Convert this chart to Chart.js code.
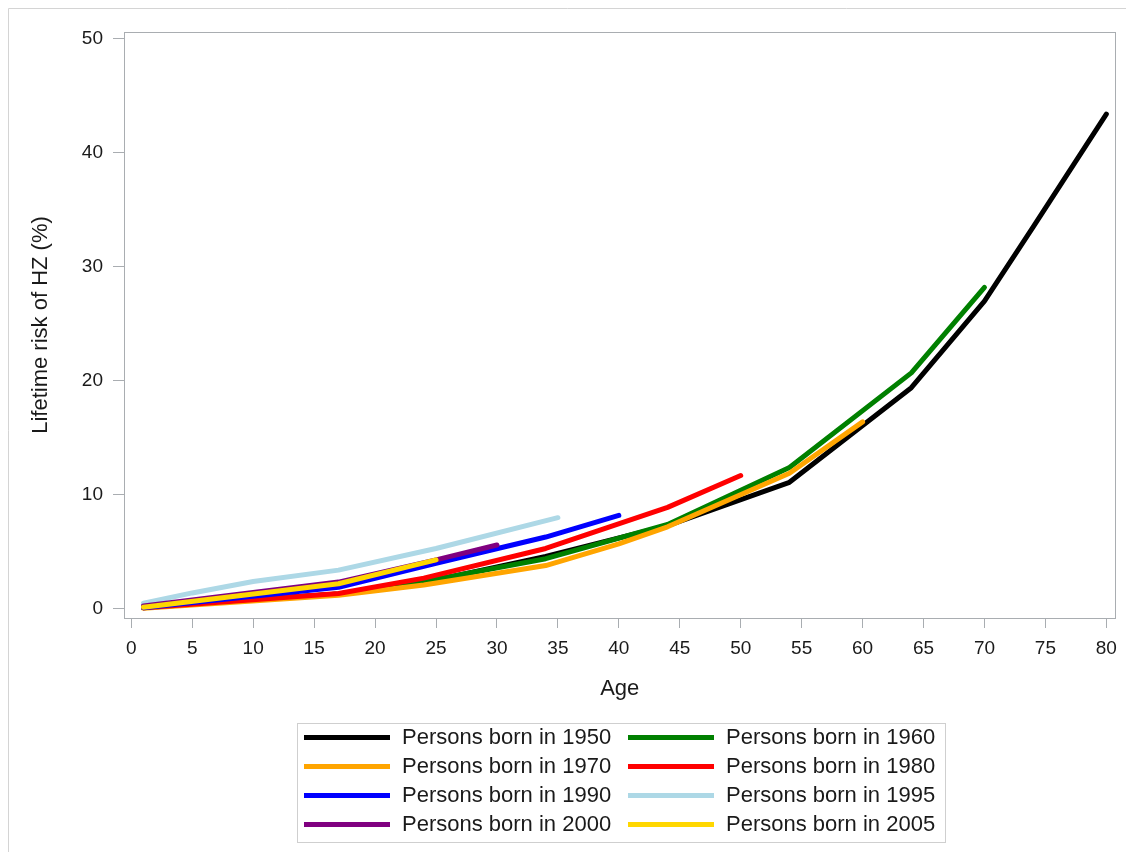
<!DOCTYPE html>
<html>
<head>
<meta charset="utf-8">
<title>Lifetime risk of HZ by birth cohort</title>
<script src="https://cdn.jsdelivr.net/npm/chart.js@4.4.1/dist/chart.umd.min.js"></script>
<style>
    body { margin: 0; background: #fff; }
    #wrap { position: relative; width: 1126px; height: 852px; overflow: hidden; }
    #legend {
        position: absolute;
        left: 297px;
        top: 723px;
        width: 649px;
        height: 120px;
        border: 1px solid #cfcfcf;
        box-sizing: border-box;
    }
    .item {
        position: absolute;
        height: 26px;
        font-family: "Liberation Sans", Arial, sans-serif;
        font-size: 22px;
        line-height: 26px;
        color: #1a1a1a;
        white-space: nowrap;
    }
    .item .swatch {
        position: absolute;
        left: 0;
        top: 11px;
        width: 86px;
        height: 5px;
    }
    .item .label { position: absolute; left: 98px; top: 0; }
</style>
</head>
<body>
<div id="wrap">
    <canvas id="riskChart" width="1126" height="852"></canvas>
    <div id="legend"></div>
</div>
<script>
// Birth cohorts and their line colours
const cohorts = ['1950', '1960', '1970', '1980', '1990', '1995', '2000', '2005'];
const colors = ['#000000', '#008000', '#ffa500', '#ff0000', '#0000ff', '#add8e6', '#800080', '#ffd700'];

// Age (years) and lifetime risk of HZ (%) per cohort
const age1950 = [1, 17, 24, 34, 44, 54, 64, 70, 74, 80];
const risk1950 = [0.2, 1.3, 2.3, 4.6, 7.3, 11.1, 19.4, 27.0, 33.5, 43.4];
const age1960 = [1, 17, 24, 34, 44, 54, 64, 70];
const risk1960 = [0.1, 1.3, 2.4, 4.4, 7.4, 12.4, 20.7, 28.2];
const age1970 = [1, 17, 24, 34, 40, 44, 54, 60];
const risk1970 = [0.05, 1.2, 2.1, 3.8, 5.7, 7.2, 11.9, 16.4];
const age1980 = [1, 17, 24, 34, 44, 50];
const risk1980 = [0.1, 1.35, 2.7, 5.3, 8.9, 11.7];
const age1990 = [1, 17, 25, 34, 40];
const risk1990 = [0.1, 1.9, 4.0, 6.3, 8.2];
const age1995 = [1, 5, 10, 17, 25, 35];
const risk1995 = [0.5, 1.4, 2.4, 3.4, 5.3, 8.0];
const age2000 = [1, 17, 25, 30];
const risk2000 = [0.25, 2.35, 4.3, 5.6];
const age2005 = [1, 17, 25];
const risk2005 = [0.15, 2.2, 4.3];

// Tick labels
const xTicks = [0, 5, 10, 15, 20, 25, 30, 35, 40, 45, 50, 55, 60, 65, 70, 75, 80];
const yTicks = [0, 10, 20, 30, 40, 50];

const ages = [age1950, age1960, age1970, age1980, age1990, age1995, age2000, age2005];
const risks = [risk1950, risk1960, risk1970, risk1980, risk1990, risk1995, risk2000, risk2005];

const axisColor = '#a9adb1';
Chart.defaults.font.family = '"Liberation Sans", Arial, sans-serif';
Chart.defaults.color = '#1a1a1a';

// Box round the plot area plus the outer frame
const framePlugin = {
    id: 'frame',
    beforeDraw(chart) {
        const ctx = chart.ctx;
        ctx.save();
        ctx.fillStyle = '#fff';
        ctx.fillRect(0, 0, chart.width, chart.height);
        ctx.strokeStyle = '#d4d4d4';
        ctx.lineWidth = 1;
        ctx.beginPath();
        ctx.moveTo(8.5, chart.height);
        ctx.lineTo(8.5, 8.5);
        ctx.lineTo(chart.width, 8.5);
        ctx.stroke();
        ctx.restore();
    },
    afterDraw(chart) {
        const a = chart.chartArea;
        const ctx = chart.ctx;
        ctx.save();
        ctx.strokeStyle = axisColor;
        ctx.lineWidth = 1;
        ctx.strokeRect(Math.round(a.left) + 0.5, Math.round(a.top) + 0.5,
            Math.round(a.right - a.left), Math.round(a.bottom - a.top));
        ctx.restore();
    }
};

const datasets = cohorts.map((c, i) => ({
    label: 'Persons born in ' + c,
    data: ages[i].map((a, j) => ({ x: a, y: risks[i][j] })),
    borderColor: colors[i],
    backgroundColor: colors[i],
    borderWidth: 5,
    pointRadius: 0,
    tension: 0,
    borderCapStyle: 'round',
    borderJoinStyle: 'round',
    order: cohorts.length - i  // later cohorts drawn on top
}));

new Chart(document.getElementById('riskChart'), {
    type: 'line',
    data: { datasets: datasets },
    options: {
        responsive: false,
        animation: false,
        layout: { padding: { left: 24, top: 32, right: 10, bottom: 146 } },
        plugins: {
            legend: { display: false },
            tooltip: { enabled: false }
        },
        scales: {
            x: {
                type: 'linear',
                min: -0.6,
                max: 80.75,
                afterBuildTicks: s => { s.ticks = xTicks.map(v => ({ value: v })); },
                afterFit: s => { s.height = 88; },
                border: { display: true, color: axisColor },
                grid: { drawOnChartArea: false, drawTicks: true, tickLength: 10, color: axisColor },
                ticks: { font: { size: 19 }, padding: 9, maxRotation: 0, autoSkip: false, color: '#1a1a1a' },
                title: { display: true, text: 'Age', font: { size: 22 }, color: '#1a1a1a' }
            },
            y: {
                type: 'linear',
                min: -0.8,
                max: 50.6,
                afterBuildTicks: s => { s.ticks = yTicks.map(v => ({ value: v })); },
                afterFit: s => { s.width = 100; },
                border: { display: true, color: axisColor },
                grid: { drawOnChartArea: false, drawTicks: true, tickLength: 11, color: axisColor },
                ticks: { font: { size: 19 }, padding: 10, color: '#1a1a1a' },
                title: { display: true, text: 'Lifetime risk of HZ (%)', font: { size: 22 }, color: '#1a1a1a' }
            }
        }
    },
    plugins: [framePlugin]
});

// Two-column legend in a box under the chart
const legend = document.getElementById('legend');
cohorts.forEach((c, i) => {
    const col = i % 2;
    const row = Math.floor(i / 2);
    const item = document.createElement('div');
    item.className = 'item';
    item.style.left = (6 + col * 324) + 'px';
    item.style.top = (0 + row * 29) + 'px';
    item.innerHTML = '<span class="swatch" style="background:' + colors[i] + '"></span>' +
        '<span class="label">Persons born in ' + c + '</span>';
    legend.appendChild(item);
});
</script>
</body>
</html>
